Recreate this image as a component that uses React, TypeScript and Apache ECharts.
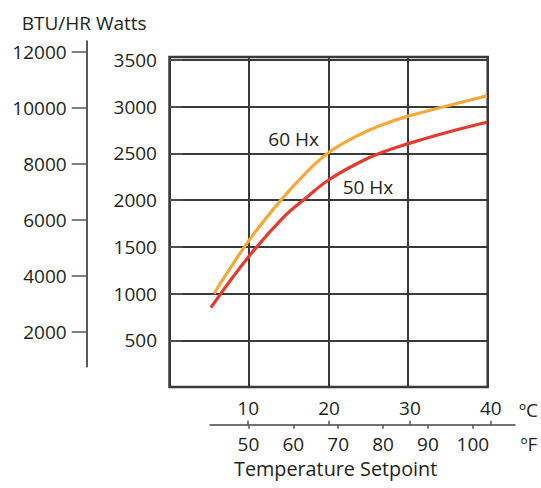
import React, { useEffect, useRef } from "react";
import * as echarts from "echarts";

// Temperature axis ticks
const celsiusTicks = [10, 20, 30, 40];
const fahrenheitTicks = [50, 60, 70, 80, 90, 100];
// Power axis ticks
const wattsTicks = [500, 1000, 1500, 2000, 2500, 3000, 3500];
const btuTicks = [2000, 4000, 6000, 8000, 10000, 12000];

// 60 Hz curve (°C, Watts)
const hz60Celsius = [5.6, 10, 14.1, 17, 20, 23.5, 26.5, 29.8, 34.6, 39.9];
const hz60Watts = [1000, 1570, 2010, 2280, 2510, 2685, 2800, 2895, 3003, 3117];
// 50 Hz curve (°C, Watts)
const hz50Celsius = [5.2, 9.9, 14.5, 17, 20, 23.9, 26.5, 29.8, 34.6, 39.9];
const hz50Watts = [850, 1390, 1831, 2013, 2216, 2406, 2505, 2600, 2720, 2835];

const TEXT = "#231f20";
const FONT = "Open Sans";
const plain = (v: number) => String(v);

export default function App() {
  const ref = useRef<HTMLDivElement>(null);
  useEffect(() => {
    if (!ref.current) return;
    const chart = echarts.init(ref.current, null, { renderer: "svg" });
    const gridLine = { color: "#3a3a3a", width: 2 };
    const tickLine = { color: "#555", width: 1.5 };
    const option: any = {
      animation: false,
      backgroundColor: "#ffffff",
      textStyle: { fontFamily: FONT },
      grid: [
        { left: 169.5, top: 57, width: 318.2, height: 330, show: true, borderColor: "#3a3a3a", borderWidth: 2.5 },
        { left: 86.7, top: 41, width: 1, height: 325.7 },
        { left: 210, top: 423.8, width: 305, height: 1 },
      ],
      xAxis: [
        {
          gridIndex: 0, type: "value", min: 0, max: 40, interval: 10,
          axisLine: { show: false }, axisTick: { show: false }, axisLabel: { show: false },
          splitLine: { show: true, lineStyle: gridLine },
        },
        { gridIndex: 1, type: "value", show: false },
        {
          gridIndex: 2, type: "value", position: "top", min: 5.28, max: 42.99,
          axisLine: { show: true, lineStyle: { color: "#444", width: 1.5 } },
          axisTick: { show: true, length: 4, customValues: celsiusTicks, lineStyle: tickLine },
          axisLabel: { customValues: celsiusTicks, formatter: plain, margin: 6, fontSize: 19, color: TEXT, fontFamily: FONT },
          splitLine: { show: false },
        },
        {
          gridIndex: 2, type: "value", position: "bottom", min: 41.43, max: 109.39,
          axisLine: { show: false },
          axisTick: { show: true, length: 4, customValues: fahrenheitTicks, lineStyle: tickLine },
          axisLabel: { customValues: fahrenheitTicks, formatter: plain, margin: 9.5, fontSize: 19, color: TEXT, fontFamily: FONT },
          splitLine: { show: false },
        },
      ],
      yAxis: [
        {
          gridIndex: 0, type: "value", min: 0, max: 3533, interval: 500, position: "left", offset: 82.8,
          axisLine: { show: false },
          axisTick: { show: true, inside: true, length: 13, customValues: wattsTicks, lineStyle: tickLine },
          axisLabel: { inside: true, align: "right", margin: 70.3, customValues: wattsTicks, formatter: plain, fontSize: 19, color: TEXT, fontFamily: FONT },
          splitLine: { show: true, lineStyle: gridLine },
        },
        {
          gridIndex: 1, type: "value", min: 769, max: 12384, position: "left",
          axisLine: { show: true, lineStyle: { color: "#222", width: 1.5 } },
          axisTick: { show: true, length: 15, customValues: btuTicks, lineStyle: tickLine },
          axisLabel: { customValues: btuTicks, formatter: plain, margin: 20, fontSize: 19, color: TEXT, fontFamily: FONT },
          splitLine: { show: false },
        },
        { gridIndex: 2, type: "value", show: false },
      ],
      series: [
        {
          name: "60 Hx", type: "line", xAxisIndex: 0, yAxisIndex: 0,
          data: hz60Celsius.map((c, i) => [c, hz60Watts[i]]),
          smooth: 0.4, showSymbol: false, symbol: "none",
          lineStyle: { color: "#f5a93a", width: 3.2 },
        },
        {
          name: "50 Hx", type: "line", xAxisIndex: 0, yAxisIndex: 0,
          data: hz50Celsius.map((c, i) => [c, hz50Watts[i]]),
          smooth: 0.4, showSymbol: false, symbol: "none",
          lineStyle: { color: "#e43a2f", width: 3.2 },
        },
      ],
      graphic: [
        { type: "text", x: 21.7, y: 23, style: { text: "BTU/HR Watts", fill: TEXT, fontSize: 19, fontFamily: FONT, verticalAlign: "middle", align: "left" } },
        { type: "text", x: 268.3, y: 139.3, style: { text: "60 Hx", fill: TEXT, fontSize: 19, fontFamily: FONT, verticalAlign: "middle", align: "left" } },
        { type: "text", x: 342.7, y: 186.7, style: { text: "50 Hx", fill: TEXT, fontSize: 19, fontFamily: FONT, verticalAlign: "middle", align: "left" } },
        { type: "text", x: 519, y: 410, style: { text: "ºC", fill: TEXT, fontSize: 19, fontFamily: FONT, verticalAlign: "middle", align: "left" } },
        { type: "text", x: 520.5, y: 444, style: { text: "ºF", fill: TEXT, fontSize: 19, fontFamily: FONT, verticalAlign: "middle", align: "left" } },
        { type: "text", x: 234, y: 468, style: { text: "Temperature Setpoint", fill: TEXT, fontSize: 19.8, fontFamily: FONT, verticalAlign: "middle", align: "left" } },
      ],
    };
    chart.setOption(option);
    return () => chart.dispose();
  }, []);
  return <div ref={ref} style={{ position: "fixed", left: 0, top: 0, width: 541, height: 488 }} />;
}
